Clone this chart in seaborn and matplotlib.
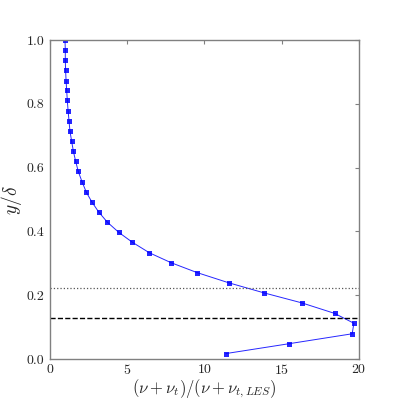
import numpy as np
import pandas as pd
import matplotlib
matplotlib.use("Agg")
import matplotlib.pyplot as plt
import seaborn as sns

# viscosity ratio profile
ratio = [0.97, 0.99, 0.99, 1.01, 1.04, 1.08, 1.12, 1.17, 1.23, 1.29, 1.40,
         1.51, 1.66, 1.83, 2.07, 2.35, 2.70, 3.15, 3.71, 4.45, 5.33, 6.43,
         7.83, 9.51, 11.56, 13.87, 16.29, 18.42, 19.67, 19.56, 15.49, 11.39]
y_delta = [1.000, 0.970, 0.937, 0.905, 0.873, 0.842, 0.811, 0.779, 0.747,
           0.715, 0.683, 0.652, 0.620, 0.588, 0.556, 0.523, 0.493, 0.461,
           0.429, 0.397, 0.366, 0.333, 0.302, 0.271, 0.239, 0.207, 0.176,
           0.143, 0.112, 0.079, 0.048, 0.017]
dotted_level = 0.223
dashed_level = 0.128

df = pd.DataFrame({"ratio": ratio, "y": y_delta})

sns.set_style("white")
plt.rcParams["font.family"] = "serif"
plt.rcParams["font.serif"] = ["cmr10", "DejaVu Serif"]
plt.rcParams["mathtext.fontset"] = "cm"
plt.rcParams["axes.formatter.use_mathtext"] = True

fig = plt.figure(figsize=(3.99, 3.99), dpi=100)
ax = fig.add_axes([0.1253, 0.1003, 0.7744, 0.7994])

sns.lineplot(data=df, x="ratio", y="y", sort=False, estimator=None,
             color="#0000ff", linewidth=0.7, alpha=0.85, marker="s",
             markersize=3.6, markeredgewidth=0, ax=ax)
ax.axhline(dotted_level, color="#555555", linestyle=":", linewidth=0.9)
ax.axhline(dashed_level, color="black", linestyle="--", linewidth=1.0)

ax.set_xlim(0, 20)
ax.set_ylim(0, 1)
ax.set_xticks([0, 5, 10, 15, 20])
ax.set_yticks([0.0, 0.2, 0.4, 0.6, 0.8, 1.0])
ax.set_yticklabels(["0.0", "0.2", "0.4", "0.6", "0.8", "1.0"])
ax.tick_params(direction="in", length=3, width=0.8, color="#808080",
               labelsize=10, top=True, right=True, pad=4)
ax.tick_params(axis="x", pad=3)
for s in ax.spines.values():
    s.set_color("#808080")
    s.set_linewidth(1.0)

ax.set_xlabel(r"$(\nu+\nu_t)/(\nu+\nu_{t,LES})$", fontsize=12, labelpad=0)
ax.set_ylabel(r"$y/\delta$", fontsize=14, labelpad=2)

fig.savefig("out.png", dpi=100)
